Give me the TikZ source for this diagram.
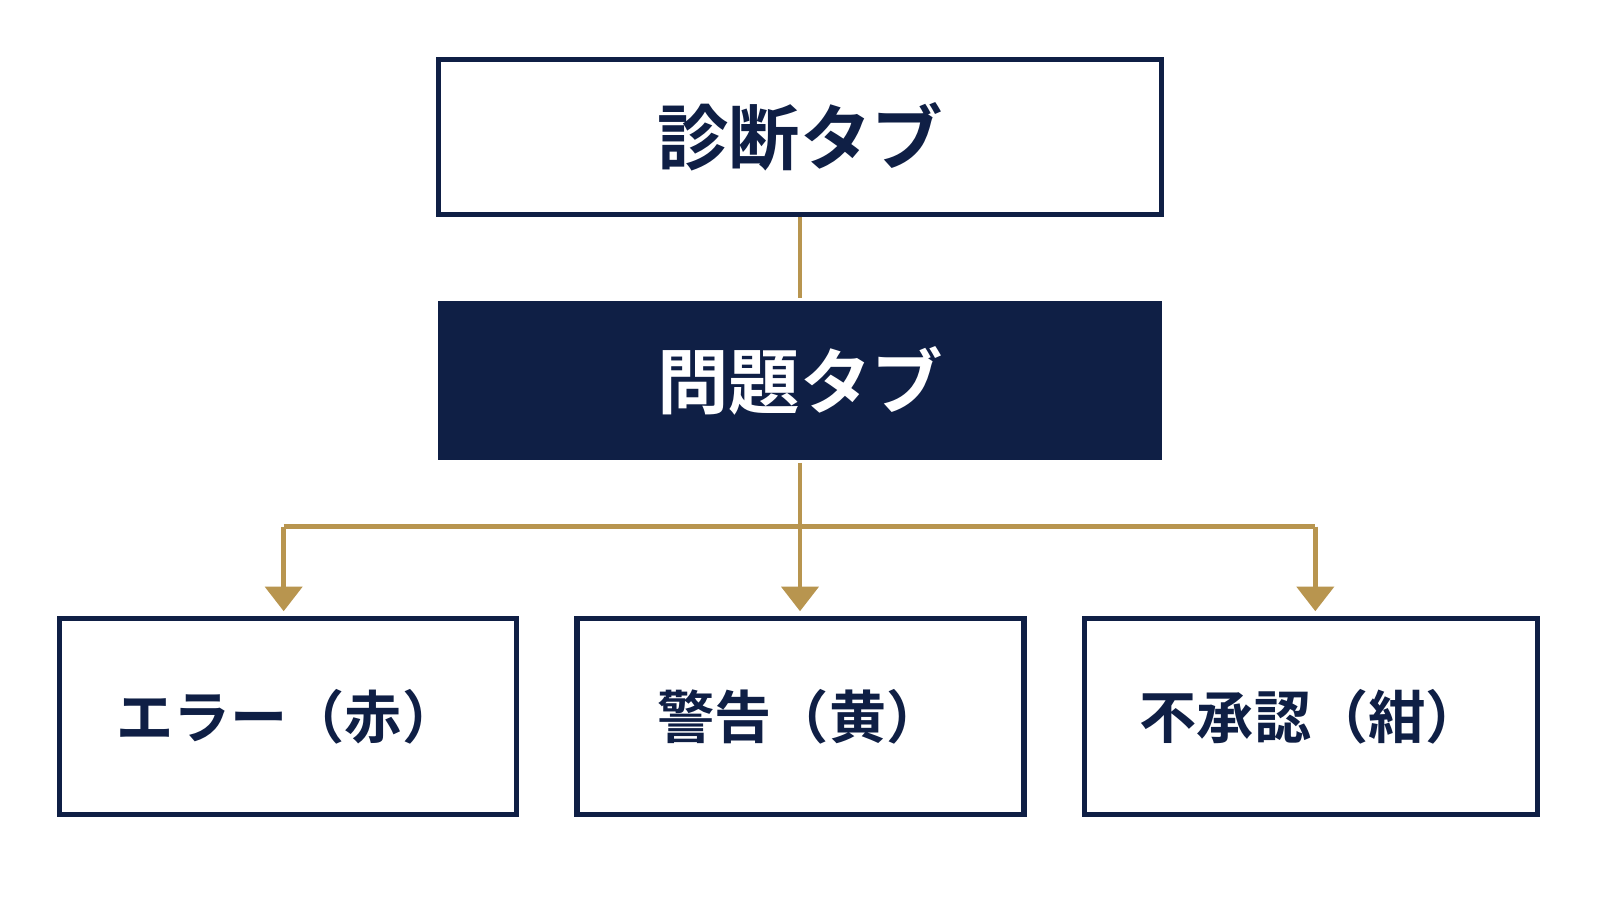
\documentclass[tikz,border=0pt]{standalone}
\usepackage{fontspec}
\setmainfont{Noto Sans CJK JP}[BoldFont={Noto Sans CJK JP Bold}]
\usetikzlibrary{arrows.meta}
\definecolor{navy}{HTML}{0F1F45}
\definecolor{gold}{HTML}{B8954F}
\begin{document}
\begin{tikzpicture}[x=0.5pt,y=-0.5pt,
  box/.style={draw=navy,line width=2.5pt,fill=white,text=navy,font=\bfseries\fontsize{28}{32}\selectfont},
  conn/.style={draw=gold,line width=2.2pt},
  arr/.style={conn,-{Triangle[width=18pt,length=12pt]}}]
\useasboundingbox[fill=white] (0,0) rectangle (1568,882);
\node[box,minimum width=354pt,minimum height=76pt,font=\bfseries\fontsize{35}{40}\selectfont] (diag) at (784,134.5) {診断タブ};
\node[box,fill=navy,draw=none,text=white,minimum width=355pt,minimum height=78pt,font=\bfseries\fontsize{35}{40}\selectfont] (prob) at (784,373) {問題タブ};
\node[box,minimum width=224pt,minimum height=96pt] (err) at (282,702.5) {エラー（赤）};
\node[box,minimum width=219pt,minimum height=96pt] (warn) at (784.5,702.5) {警告（黄）};
\node[box,minimum width=222pt,minimum height=96pt] (unap) at (1285,702.5) {不承認（紺）};
\coordinate (j) at (784,516);
\coordinate (jl) at (278,516);
\coordinate (jr) at (1289,516);
\draw[conn] (diag.south) -- (prob.north);
\draw[conn] (prob.south) -- (j);
\draw[conn] (jl) -- (jr);
\draw[arr] (jl) -- (278,599);
\draw[arr] (j) -- (784,599);
\draw[arr] (jr) -- (1289,599);
\end{tikzpicture}
\end{document}
